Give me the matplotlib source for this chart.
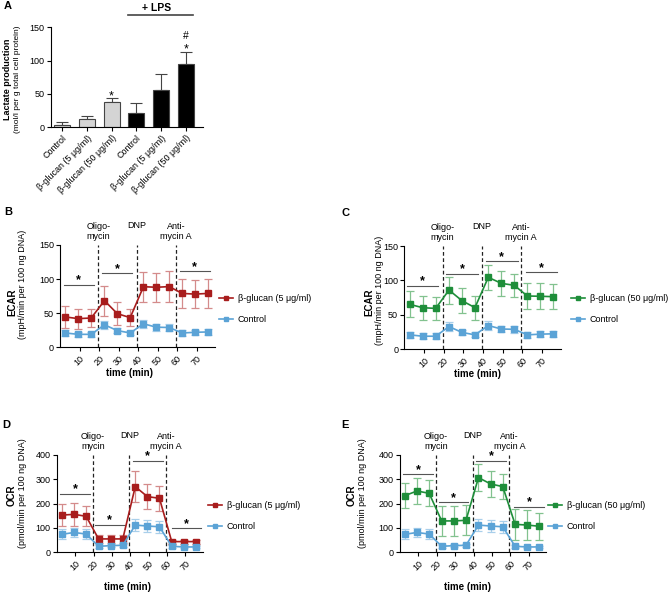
import numpy as np
import matplotlib.pyplot as plt

plt.rcParams['font.family'] = ['Liberation Sans', 'DejaVu Sans']
plt.rcParams['axes.linewidth'] = 0.8
plt.rcParams['xtick.major.width'] = 0.8
plt.rcParams['ytick.major.width'] = 0.8
plt.rcParams['xtick.major.size'] = 3
plt.rcParams['ytick.major.size'] = 3

W, H = 669, 594

# panel A: lactate production
lac_labels = ['Control', 'β-glucan (5 μg/ml)', 'β-glucan (50 μg/ml)',
              'Control', 'β-glucan (5 μg/ml)', 'β-glucan (50 μg/ml)']
lac_mean = [4, 12.5, 37.5, 22, 55.5, 95]
lac_sem = [3.5, 5, 6, 14, 24.5, 18.5]

# panels B-E: seahorse traces
time_min = [2.7, 9.3, 15.9, 22.7, 29.3, 35.9, 42.7, 49.3, 55.9, 62.6, 69.2, 75.8]
injections = [19.5, 39.5, 59.5]
injection_names = ['Oligo-\nmycin', 'DNP', 'Anti-\nmycin A']

ecar_ctrl = [21, 19, 19, 33, 24.5, 21, 34.5, 29.5, 29, 21, 22, 22.5]
ecar_ctrl_sem = [4, 4, 4, 6, 4, 3.5, 6, 5, 5, 4, 4, 4.5]
ecar_b5 = [44.5, 42, 43, 68.4, 49.3, 43.5, 88.9, 88, 89, 79, 78, 79]
ecar_b5_sem = [15.5, 14.7, 13.7, 22, 17, 13, 22, 21.5, 23, 21.6, 20, 20.7]
ecar_b50 = [65.3, 60.4, 59.4, 86, 70.6, 60.5, 104.5, 95.8, 92.9, 77.4, 77, 76.4]
ecar_b50_sem = [19, 17.6, 17, 19.5, 18, 17.5, 18.5, 18, 17, 19, 18.8, 18]

ocr_ctrl = [74, 81.5, 75, 24.6, 27.4, 28.8, 112, 108, 105, 24.6, 22, 22]
ocr_ctrl_sem = [20, 20, 22, 5, 5, 5, 24, 24, 24, 5, 5, 5]
ocr_b5 = [153, 156, 148, 55, 55, 55, 270, 229, 222, 44, 44, 44]
ocr_b5_sem = [46, 47, 41, 16, 16, 16, 63, 50, 51, 8, 8, 8]
ocr_b50 = [233, 252, 242.5, 129, 129, 131.5, 307, 281, 270, 115, 112, 107]
ocr_b50_sem = [52, 55, 54, 60, 60, 62, 55, 52, 51, 64, 60, 56]

# significance brackets (start, end, height)
sig_b = [(1.7, 17.2, 91), (21.3, 36.9, 108.5), (61.2, 76.9, 111.4)]
sig_c = [(1.5, 17.3, 92), (21.2, 37.5, 109.8), (41.5, 57.7, 127.7), (61.7, 77.8, 111.8)]
sig_d = [(1.6, 18, 240), (20.7, 37, 112), (41.3, 57.7, 375), (62.6, 78.6, 98.6)]
sig_e = [(1.8, 18.2, 320.5), (21.3, 37.2, 205.5), (41.4, 57.5, 375), (62.2, 78.5, 187.7)]

RED, RED_E = '#a81d1d', '#d48b8b'
GREEN, GREEN_E = '#1e8e3a', '#82c28f'
BLUE, BLUE_E = '#5ba3d6', '#a9cfea'

fig = plt.figure(figsize=(W / 100, H / 100), dpi=100)


def box(l, t, r, b):
    return [l / W, 1 - b / H, (r - l) / W, (b - t) / H]


def ftext(x, y, s, **kw):
    fig.text(x / W, 1 - y / H, s, **kw)


def clean(ax):
    for s in ['top', 'right']:
        ax.spines[s].set_visible(False)
    ax.tick_params(labelsize=6.5, pad=1.5)


# ---- A ----
ax = fig.add_axes(box(50.7, 27.3, 202.7, 127.3))
x = np.arange(len(lac_mean))
cols = ['#d4d4d4'] * 3 + ['black'] * 3
ax.bar(x, lac_mean, width=0.65, color=cols, edgecolor='#444444', linewidth=0.8, zorder=2)
ax.errorbar(x, lac_mean, yerr=[[0] * 6, lac_sem], fmt='none', ecolor='#444444',
            elinewidth=0.8, capsize=4, capthick=0.8, zorder=1)
ax.set_xlim(-0.47, 5.69)
ax.set_ylim(0, 150)
ax.set_yticks([0, 50, 100, 150])
ax.set_xticks(x)
ax.set_xticklabels(lac_labels, rotation=45, ha='right', rotation_mode='anchor', fontsize=6)
clean(ax)
ax.text(2, 47, '*', ha='center', va='center', fontsize=9)
ax.text(5, 117, '*', ha='center', va='center', fontsize=9)
ax.text(5, 137, '#', ha='center', va='center', fontsize=7.5)
ftext(157, 8, '+ LPS', ha='center', va='center', fontsize=7.5, weight='bold')
fig.add_artist(plt.Line2D([128 / W, 193 / W], [1 - 15 / H, 1 - 15 / H], color='#444444', lw=1.2))
ftext(8, 79, 'Lactate production', rotation=90, ha='center', va='center', fontsize=6.5, weight='bold')
ftext(18, 79, '(mol/l per g total cell protein)', rotation=90, ha='center', va='center', fontsize=6)
ftext(8, 6, 'A', ha='center', va='center', fontsize=8, weight='bold')


def trace(rect, treat, treat_sem, col, ecol, label, ymax, yticks, sigs,
          ylab, ylab_pos, xlab_pos, leg_pos, letter, letter_pos):
    ax = fig.add_axes(box(*rect))
    ctrl = ecar_ctrl if ymax == 150 else ocr_ctrl
    ctrl_sem = ecar_ctrl_sem if ymax == 150 else ocr_ctrl_sem
    for t in injections:
        ax.axvline(t, color='#222222', lw=0.9, ls=(0, (3, 2)), zorder=1)
    ax.errorbar(time_min, treat, yerr=treat_sem, fmt='none', ecolor=ecol,
                elinewidth=0.9, capsize=3, capthick=0.9, zorder=3)
    ax.errorbar(time_min, ctrl, yerr=ctrl_sem, fmt='none',
                ecolor=BLUE_E, elinewidth=0.9, capsize=3, capthick=0.9, zorder=3)
    h1, = ax.plot(time_min, treat, color=col, marker='s', ms=4, lw=1.2, zorder=4, label=label)
    h2, = ax.plot(time_min, ctrl, color=BLUE, marker='s', ms=4, lw=1.2, zorder=4, label='Control')
    for x0, x1, y in sigs:
        ax.plot([x0, x1], [y, y], color='#555555', lw=0.8, clip_on=False)
        ax.annotate('*', xy=((x0 + x1) / 2, y), xytext=(0, -1), textcoords='offset points',
                    ha='center', va='bottom', fontsize=9, weight='bold', annotation_clip=False)
    for t, name in zip(injections, injection_names):
        off = 3 if '\n' in name else 11
        ax.annotate(name, xy=(t, 1), xycoords=('data', 'axes fraction'), xytext=(0, off),
                    textcoords='offset points', ha='center', va='bottom', fontsize=6.5,
                    multialignment='center', linespacing=1.15)
    ax.set_xlim(0, 79.5)
    ax.set_ylim(0, ymax)
    ax.set_yticks(yticks)
    ax.set_xticks([10, 20, 30, 40, 50, 60, 70])
    ax.set_xticklabels(['10', '20', '30', '40', '50', '60', '70'], rotation=45, ha='right',
                       rotation_mode='anchor')
    clean(ax)
    name, unit = ylab
    ftext(ylab_pos[0], ylab_pos[1], name, rotation=90, ha='center', va='center', fontsize=7, weight='bold')
    ftext(ylab_pos[2], ylab_pos[3], unit, rotation=90, ha='center', va='center', fontsize=6.5)
    ftext(xlab_pos[0], xlab_pos[1], 'time (min)', ha='center', va='center', fontsize=7, weight='bold')
    ftext(letter_pos[0], letter_pos[1], letter, ha='center', va='center', fontsize=8, weight='bold')
    fig.legend(handles=[h1, h2], loc='upper left', bbox_to_anchor=(leg_pos[0] / W, 1 - leg_pos[1] / H),
               frameon=False, fontsize=6.5, handlelength=1.5, handletextpad=0.6,
               labelspacing=1.3, borderpad=0, borderaxespad=0, markerscale=0.8)


trace((60.2, 245, 215.2, 347.3), ecar_b5, ecar_b5_sem, RED, RED_E, 'β-glucan (5 μg/ml)',
      150, [0, 50, 100, 150], sig_b, ('ECAR', '(mpH/min per 100 ng DNA)'),
      (12, 302, 22.5, 284), (130, 373), (219, 294), 'B', (8, 212))
trace((404.4, 246, 560.6, 349.3), ecar_b50, ecar_b50_sem, GREEN, GREEN_E, 'β-glucan (50 μg/ml)',
      150, [0, 50, 100, 150], sig_c, ('ECAR', '(mpH/min per 100 ng DNA)'),
      (369.5, 302, 380, 290), (478, 374), (571, 294), 'C', (345, 213))
trace((57, 455, 202.7, 552.3), ocr_b5, ocr_b5_sem, RED, RED_E, 'β-glucan (5 μg/ml)',
      400, [0, 100, 200, 300, 400], sig_d, ('OCR', '(pmol/min per 100 ng DNA)'),
      (12, 495, 22.5, 493), (127, 587), (208, 501), 'D', (6, 425))
trace((399.9, 455, 546.2, 552.3), ocr_b50, ocr_b50_sem, GREEN, GREEN_E, 'β-glucan (50 μg/ml)',
      400, [0, 100, 200, 300, 400], sig_e, ('OCR', '(pmol/min per 100 ng DNA)'),
      (352, 495, 362.5, 493), (467, 587), (548, 501), 'E', (345, 425))

fig.savefig('out.png', dpi=100)
